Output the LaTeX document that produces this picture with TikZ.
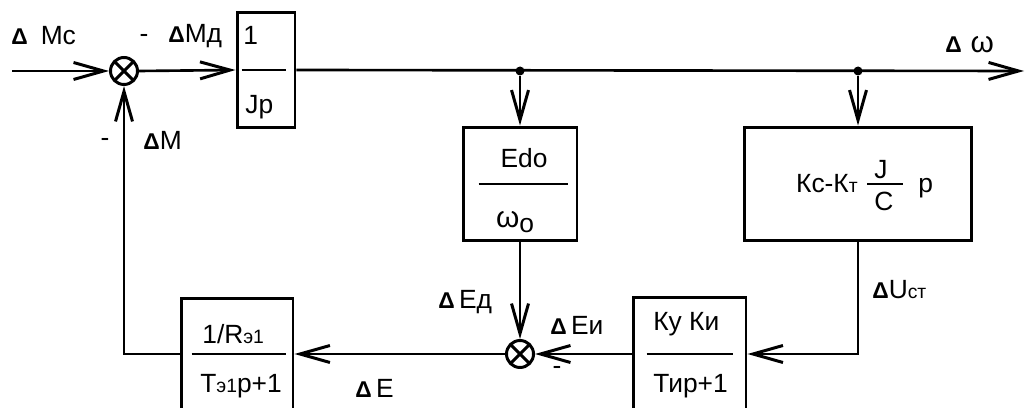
\documentclass[tikz,border=0pt]{standalone}
\usepackage{fontspec}
\setmainfont{Liberation Sans}
\usepackage{tikz}
\usetikzlibrary{arrows.meta,positioning,calc}
\newcommand{\dlt}{{\fontsize{13}{13}\selectfont\bfseries Δ}}
\newcommand{\sm}[1]{{\fontsize{11}{11}\selectfont #1}}
\newcommand{\om}{{\fontsize{17}{17}\selectfont ω}}

\begin{document}
\begin{tikzpicture}[
    x=0.02cm, y=-0.02cm,
    every node/.style={font=\fontsize{15}{17}\selectfont, inner sep=0pt},
    block/.style={rectangle, draw, line width=1.7pt},
    summer/.style={circle, draw, line width=1.7pt, minimum size=0.54cm,
                   path picture={\draw[line width=1.7pt]
                     (path picture bounding box.north west) -- (path picture bounding box.south east)
                     (path picture bounding box.north east) -- (path picture bounding box.south west);}},
    arr/.style={-{Straight Barb[length=0.6cm, width=0.34cm, line width=1.7pt]}, line width=1.5pt},
    frac/.style={line width=1.7pt},
    dot/.style={circle, fill, minimum size=0.18cm}
]
\useasboundingbox (0,0) rectangle (1027,408);

% Forward path
\coordinate (in) at (12,71);
\node[summer] (s1) at (124,71) {};
\node[block, minimum width=1.16cm, minimum height=2.3cm] (jp) at (266,70) {};
\coordinate (out) at (1024,71);
\node[dot] (d1) at (520,71) {};
\node[dot] (d2) at (858,71) {};

% Feedback blocks
\node[block, minimum width=2.28cm, minimum height=2.28cm] (ed) at (520,184) {};
\node[block, minimum width=4.54cm, minimum height=2.28cm] (kc) at (858,184) {};
\node[summer] (s2) at (520,354) {};
\node[block, minimum width=2.26cm, minimum height=2.28cm] (ku) at (689.5,354) {};
\node[block, minimum width=2.24cm, minimum height=2.24cm] (re) at (237,354) {};

% Block texts
\node[anchor=west] (jpn) at (243,35) {1};
\node[anchor=west] (jpd) at (245,107) {Jp};
\draw[frac] ([xshift=0.12cm]jp.west) -- ([xshift=-0.2cm]jp.east);

\node (edn) at (524,158) {Edo};
\node (edd) at (515,222) {\om\raisebox{-3pt}{o}};
\draw[frac] ([xshift=0.34cm]ed.west) -- ([xshift=-0.2cm]ed.east);

\node[anchor=base east] (kct) at (858,193) {Кс-К\sm{т}};
\node (kcj) at (881,170) {J};
\node (kcc) at (884,201) {C};
\node[anchor=base west] (kcp) at (918,193) {p};
\draw[frac] (867,184) -- (903,184);

\node[anchor=west] (kun) at (653,324) {Ку Ки};
\node[anchor=west] (kud) at (653,386) {Тир+1};
\draw[frac] ([xshift=0.3cm]ku.west) -- ([xshift=-0.28cm]ku.east);

\node[anchor=west] (ren) at (202,334) {1/R\sm{э1}};
\node[anchor=west] (red) at (200,386) {Т\sm{э1}р+1};
\draw[frac] ([xshift=0.24cm]re.west) -- ([xshift=-0.16cm]re.east);

% Connectors
\draw[arr] (in) -- (s1.west);
\draw[arr] (s1.east) -- (jp.west);
\draw[arr] (jp.east) -- (out);
\draw[arr] (d1) -- (ed.north);
\draw[arr] (d2) -- (kc.north);
\draw[arr] (ed.south) -- (s2.north);
\draw[arr] (kc.south) |- (ku.east);
\draw[arr] (ku.west) -- (s2.east);
\draw[arr] (s2.west) -- (re.east);
\draw[arr] (re.west) -| (s1.south);

% Signal labels
\node[anchor=west] (lmc) at (11,36) {\dlt\hspace{0.26cm}Mc};
\node (m1) at (144,38) {-};
\node[anchor=west] (lmd) at (168,36) {\dlt Mд};
\node (m2) at (105,142) {-};
\node[anchor=west] (lm) at (143,140) {\dlt M};
\node[anchor=west] (led) at (438,302) {\dlt\,Eд};
\node[anchor=west] (lei) at (550,325) {\dlt\,Eи};
\node (m3) at (557,370) {-};
\node[anchor=west] (le) at (355,388) {\dlt\,E};
\node[anchor=west] (lu) at (872,290) {\dlt U\sm{ст}};
\node[anchor=west] (lw) at (945,45) {\dlt\,\,\om};

\end{tikzpicture}
\end{document}
